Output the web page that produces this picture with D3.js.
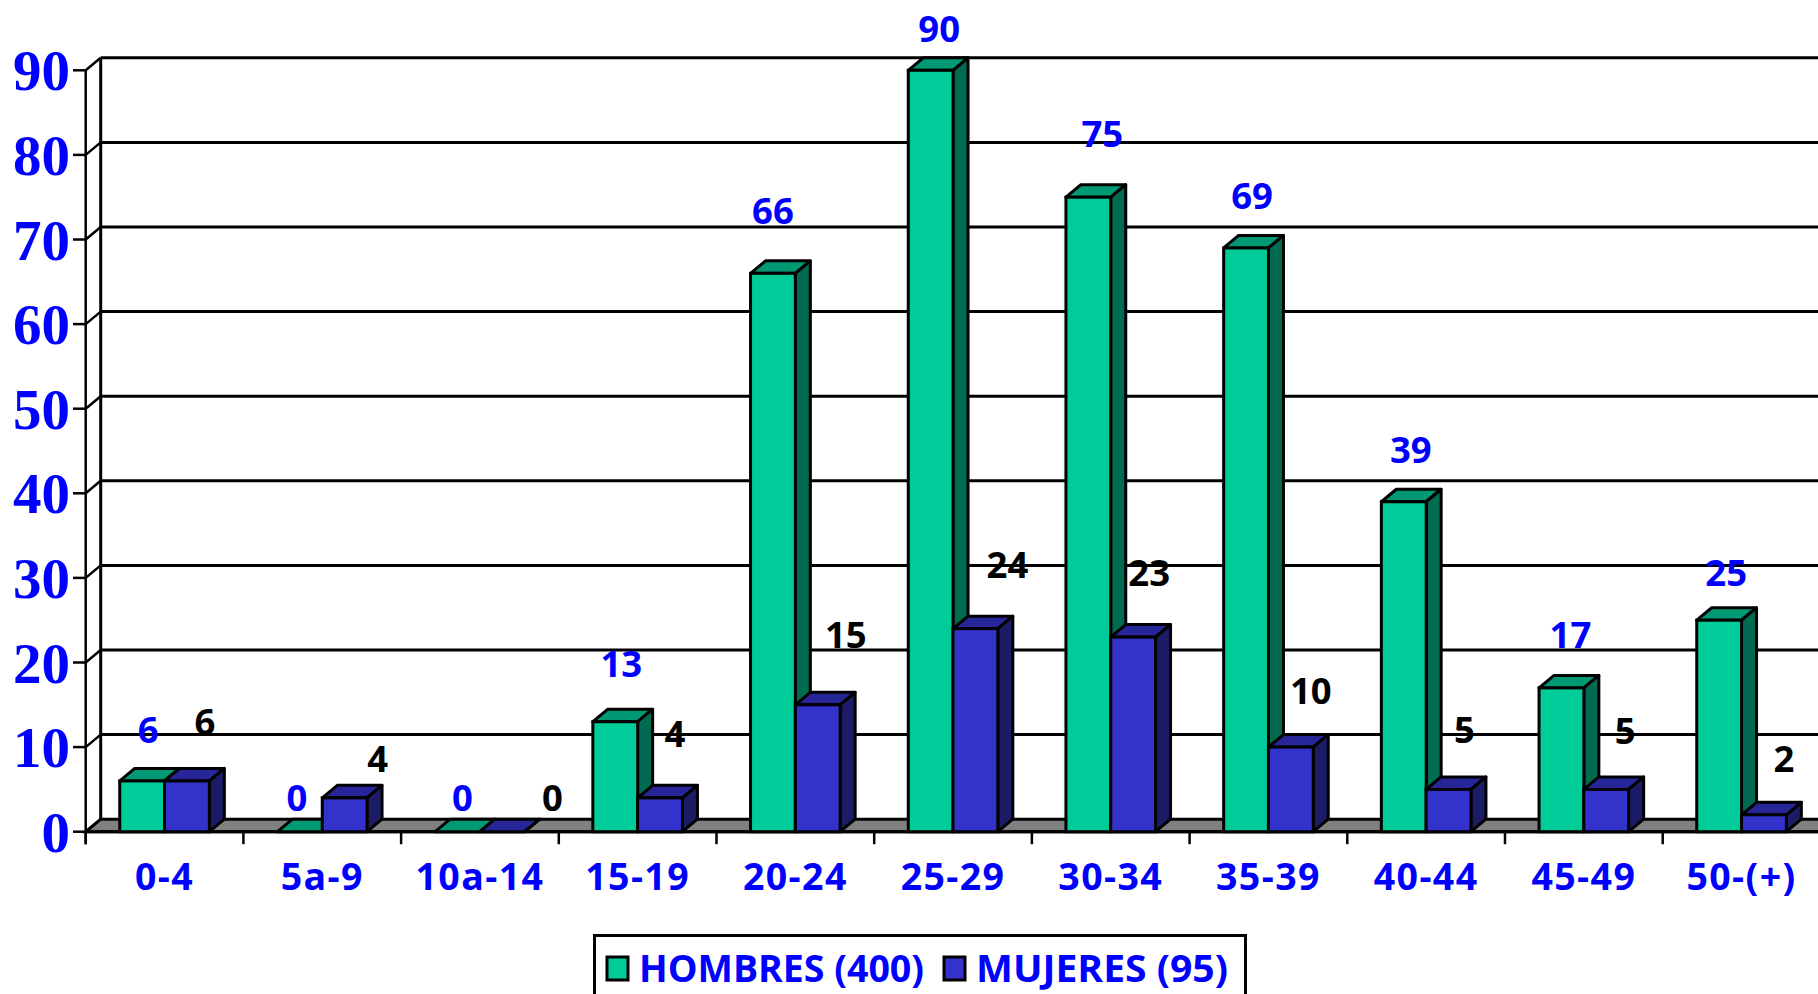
<!DOCTYPE html>
<html><head><meta charset="utf-8">
<script src="https://cdn.jsdelivr.net/npm/d3@7"></script>
<style>html,body{margin:0;padding:0;background:#fff;overflow:hidden}svg{display:block}</style>
</head><body><svg id="c" width="1818" height="994"></svg>
<script>
const categories = ["0-4","5a-9","10a-14","15-19","20-24","25-29","30-34","35-39","40-44","45-49","50-(+)"];
const hombres = [6,0,0,13,66,90,75,69,39,17,25];
const mujeres = [6,4,0,4,15,24,23,10,5,5,2];
const yTicks = [0,10,20,30,40,50,60,70,80,90];
const seriesNames = ["HOMBRES (400)","MUJERES (95)"];
// hand-placed data labels in the original: offsets from each bar's front-top centre
const hombresLabelDx = [6,-3,5,6,0,8.5,14,6,7,9,7];
const hombresLabelDy = [-51,-34,-34,-58,-62,-41,-63,-52,-52,-53,-47];
const mujeresLabelDx = [18,33,50,15,28,32,16,20,16,19,20];
const mujeresLabelDy = [-59,-39,-34,-64,-70,-64,-64,-56,-59,-58,-56];

const svg = d3.select("#c");
const sans = "'Open Sans',sans-serif", serif = "'Liberation Serif',serif";
const BLUE = "#0000ff", SW = 3;
const depthX = 15, depthY = 12.5;
const x0 = 85.7, catW = 157.7;
const x = d3.scaleBand().domain(categories).range([x0, x0 + catW * categories.length]);
const y = d3.scaleLinear().domain([0,90]).range([831.7, 70.3]);
const barW = 44.8;
const colors = {
  h:{front:"#00cc99",top:"#009973",side:"#006b50"},
  m:{front:"#3333cc",top:"#262699",side:"#1c1c66"}
};
const line = (a,b,c,d,w=SW) => svg.append("line").attr("x1",a).attr("y1",b).attr("x2",c).attr("y2",d)
  .attr("stroke","#000").attr("stroke-width",w);

// floor
const right = 1830;
svg.append("path").attr("d",`M${x0},${y(0)}L${x0+depthX},${y(0)-depthY}L${right},${y(0)-depthY}L${right},${y(0)}Z`)
  .attr("fill","#808080").attr("stroke","#000").attr("stroke-width",SW);

// grid + back wall
yTicks.forEach(t=>{
  if(t>0) line(x0+depthX,y(t)-depthY,right,y(t)-depthY);
  line(x0,y(t),x0+depthX,y(t)-depthY,2.5);
  line(73,y(t),x0,y(t),2.5);
});
line(x0+depthX,y(90)-depthY,x0+depthX,y(0)-depthY);
line(x0,y(90),x0,y(0)+12.5,2.5);

// x ticks
d3.range(categories.length+1).forEach(i=>line(x0+i*catW,y(0),x0+i*catW,y(0)+12.5,2.5));
line(x0,y(0),right,y(0));

// bars
function bar(g,left,val,c){
  const t=y(val),b=y(0),r=left+barW;
  g.append("path").attr("d",`M${left},${t}L${left+depthX},${t-depthY}L${r+depthX},${t-depthY}L${r},${t}Z`)
    .attr("fill",c.top).attr("stroke","#000").attr("stroke-width",SW).attr("stroke-linejoin","round");
  g.append("path").attr("d",`M${r},${t}L${r+depthX},${t-depthY}L${r+depthX},${b-depthY}L${r},${b}Z`)
    .attr("fill",c.side).attr("stroke","#000").attr("stroke-width",SW).attr("stroke-linejoin","round");
  if(val>0) g.append("rect").attr("x",left).attr("y",t).attr("width",barW).attr("height",b-t)
    .attr("fill",c.front).attr("stroke","#000").attr("stroke-width",SW);
}
const center = c => x(c)+x.bandwidth()/2;
const barsG = svg.append("g");
categories.forEach((c,i)=>{
  bar(barsG,center(c)-barW,hombres[i],colors.h);
  bar(barsG,center(c),mujeres[i],colors.m);
});

// y tick labels
svg.append("g").selectAll("text").data(yTicks).join("text")
  .attr("x",70).attr("y",d=>y(d)+20).attr("text-anchor","end")
  .attr("font-family",serif).attr("font-weight",700).attr("font-size",57).attr("fill",BLUE).text(d=>d);

// x labels
svg.append("g").selectAll("text").data(categories).join("text")
  .attr("x",c=>center(c)).attr("y",890).attr("text-anchor","middle")
  .attr("font-family",sans).attr("font-weight",700).attr("font-size",37.5).attr("letter-spacing",1.4).attr("fill",BLUE).text(c=>c);

// data labels
const lab = (vals,dxs,dys,off,fill)=>svg.append("g").selectAll("text").data(vals).join("text")
  .attr("x",(d,i)=>center(categories[i])+off+dxs[i]).attr("y",(d,i)=>y(d)+dys[i]+13)
  .attr("text-anchor","middle").attr("font-family",sans).attr("font-weight",700).attr("font-size",36.5)
  .attr("fill",fill).text(d=>d);
lab(hombres,hombresLabelDx,hombresLabelDy,-barW/2,BLUE);
lab(mujeres,mujeresLabelDx,mujeresLabelDy,barW/2,"#000");

// legend
svg.append("rect").attr("x",594.5).attr("y",935.5).attr("width",651).attr("height",80)
  .attr("fill","#fff").attr("stroke","#000").attr("stroke-width",SW);
[[607,639,colors.h.front,285],[944,976,colors.m.front,252]].forEach((l,i)=>{
  svg.append("rect").attr("x",l[0]).attr("y",957).attr("width",21).attr("height",23)
    .attr("fill",l[2]).attr("stroke","#000").attr("stroke-width",SW);
  svg.append("text").attr("x",l[1]).attr("y",981.5).attr("font-family",sans).attr("font-weight",700)
    .attr("font-size",38).attr("fill",BLUE).attr("textLength",l[3]).attr("lengthAdjust","spacingAndGlyphs").text(seriesNames[i]);
});
</script></body></html>
